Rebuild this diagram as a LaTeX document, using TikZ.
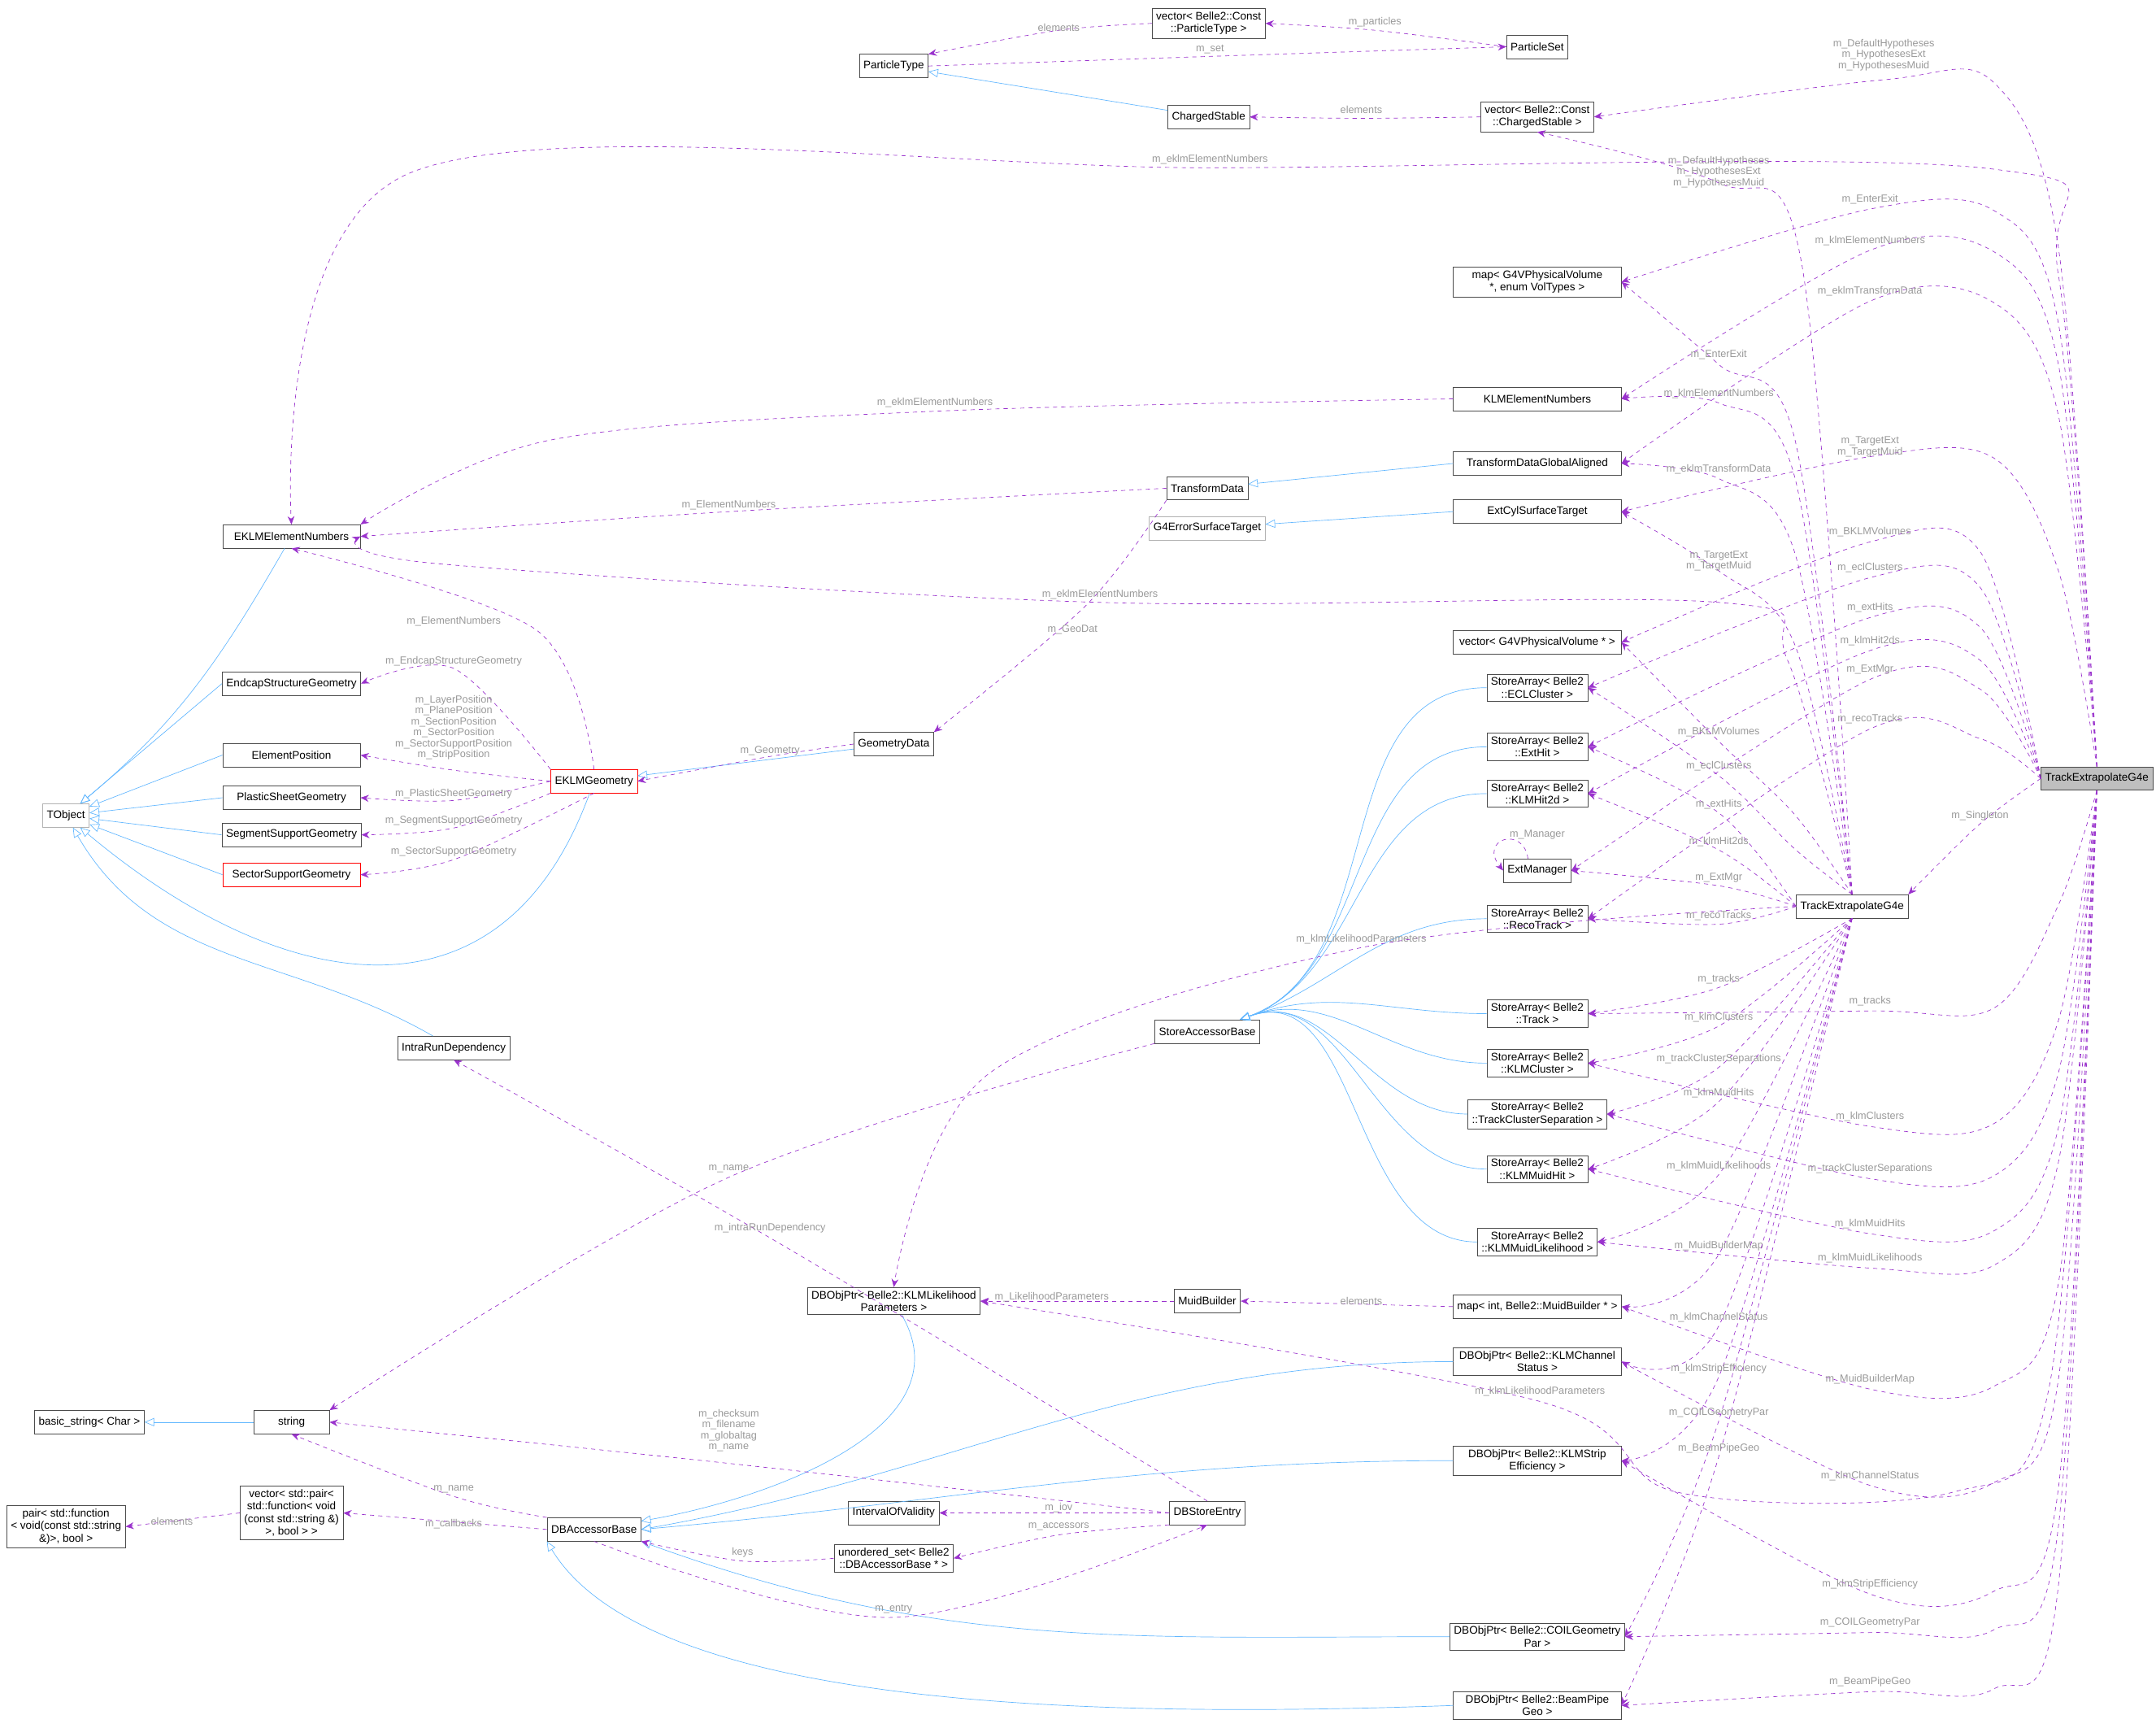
\documentclass[tikz,border=0pt]{standalone}
\usepackage{fontspec}
\setmainfont{Liberation Sans}
\usetikzlibrary{arrows.meta,calc}
\definecolor{depcol}{HTML}{9A32CD}
\definecolor{inhcol}{HTML}{63B8FF}
\definecolor{lblcol}{HTML}{9A9A9A}
\tikzset{
  box/.style={draw=black!70,fill=white,align=center,font=\fontsize{8}{9}\selectfont,
    inner xsep=3pt,inner ysep=2.5pt,minimum height=17pt},
  col/.style={box,minimum width=122pt},
  lcol/.style={box,minimum width=100pt},
  dep/.style={draw=depcol,dashed,-{Stealth[length=6pt,width=5pt]}},
  inh/.style={draw=inhcol,-{Triangle[open,length=7pt,width=6pt]}},
  lbl/.style={text=lblcol,align=center,font=\fontsize{7.5}{8}\selectfont,inner sep=0pt}
}
% dependency: source, target, points between, label position, label
\newcommand\rel[5]{%
  \draw[dep] plot[smooth,tension=0.55] coordinates {(#1) #3 (#2)};
  \node[lbl] at (#4) {#5};}

\begin{document}
\begin{tikzpicture}[x=1pt,y=-1pt]
  \useasboundingbox[fill=white] (0,0) rectangle (1568,1256);
  % classes
  \node[box,fill=black!25] (te) at (1525,566) {TrackExtrapolateG4e};
  \node[box] (tem) at (1347,659) {TrackExtrapolateG4e};
  \node[box] (vpt) at (879,17) {vector< Belle2::Const\\::ParticleType >};
  \node[box] (pset) at (1118,34) {ParticleSet};
  \node[box] (ptype) at (650,48) {ParticleType};
  \node[box] (cstab) at (879,85) {ChargedStable};
  \node[box] (vcs) at (1118,85) {vector< Belle2::Const\\::ChargedStable >};
  \node[lcol] (eklmen) at (212,390) {EKLMElementNumbers};
  \node[col] (mapvol) at (1118,205) {map< G4VPhysicalVolume\\*, enum VolTypes >};
  \node[col] (klmen) at (1118,290) {KLMElementNumbers};
  \node[col] (tdga) at (1118,337) {TransformDataGlobalAligned};
  \node[box] (tdata) at (878,355) {TransformData};
  \node[col] (ecst) at (1118,372) {ExtCylSurfaceTarget};
  \node[box,draw=black!30] (g4est) at (878,384) {G4ErrorSurfaceTarget};
  \node[col] (vg4) at (1118,467) {vector< G4VPhysicalVolume * >};
  \node[box] (saecl) at (1118,500) {StoreArray< Belle2\\::ECLCluster >};
  \node[box] (saext) at (1118,543) {StoreArray< Belle2\\::ExtHit >};
  \node[box] (sahit) at (1118,577) {StoreArray< Belle2\\::KLMHit2d >};
  \node[box] (emgr) at (1118,633) {ExtManager};
  \node[box] (sareco) at (1118,668) {StoreArray< Belle2\\::RecoTrack >};
  \node[box] (satrk) at (1118,737) {StoreArray< Belle2\\::Track >};
  \node[box] (sacl) at (1118,773) {StoreArray< Belle2\\::KLMCluster >};
  \node[box] (satcs) at (1118,810) {StoreArray< Belle2\\::TrackClusterSeparation >};
  \node[box] (samuid) at (1118,850) {StoreArray< Belle2\\::KLMMuidHit >};
  \node[box] (samlk) at (1118,903) {StoreArray< Belle2\\::KLMMuidLikelihood >};
  \node[col] (mapmb) at (1118,950) {map< int, Belle2::MuidBuilder * >};
  \node[col] (dbch) at (1118,990) {DBObjPtr< Belle2::KLMChannel\\Status >};
  \node[col] (dbse) at (1118,1062) {DBObjPtr< Belle2::KLMStrip\\Efficiency >};
  \node[col] (dbcoil) at (1118,1190) {DBObjPtr< Belle2::COILGeometry\\Par >};
  \node[col] (dbbp) at (1118,1240) {DBObjPtr< Belle2::BeamPipe\\Geo >};
  \node[lcol] (esg) at (212,497) {EndcapStructureGeometry};
  \node[lcol] (epos) at (212,549) {ElementPosition};
  \node[lcol] (psg) at (212,580) {PlasticSheetGeometry};
  \node[lcol] (ssg) at (212,607) {SegmentSupportGeometry};
  \node[lcol,draw=red] (secsg) at (212,636) {SectorSupportGeometry};
  \node[box,draw=black!30] (tobj) at (48,593) {TObject};
  \node[box,draw=red] (eklmg) at (432,568) {EKLMGeometry};
  \node[box] (gdata) at (650,541) {GeometryData};
  \node[box] (ird) at (330,762) {IntraRunDependency};
  \node[box] (sab) at (878,750) {StoreAccessorBase};
  \node[box] (dblik) at (650,946) {DBObjPtr< Belle2::KLMLikelihood\\Parameters >};
  \node[box] (mbld) at (878,946) {MuidBuilder};
  \node[box] (bstr) at (65,1034) {basic\_string< Char >};
  \node[box,minimum width=55pt] (str) at (212,1034) {string};
  \node[box] (dbab) at (432,1112) {DBAccessorBase};
  \node[box] (vpair) at (212,1100) {vector< std::pair<\\std::function< void\\(const std::string \&)\\>, bool > >};
  \node[box] (pairf) at (48,1110) {pair< std::function\\< void(const std::string\\\&)>, bool >};
  \node[box] (iov) at (650,1100) {IntervalOfValidity};
  \node[box] (uset) at (650,1133) {unordered\_set< Belle2\\::DBAccessorBase * >};
  \node[box] (dbent) at (878,1100) {DBStoreEntry};

  % inheritance
  \draw[inh] (cstab) -- (ptype);
  \draw[inh] (eklmen) to[out=240,in=40] (tobj);
  \foreach \n in {esg,epos,psg,ssg,secsg} \draw[inh] (\n.west) -- (tobj);
  \draw[inh] (eklmg) to[out=250,in=-40,looseness=1.3] (tobj);
  \draw[inh] (ird) to[out=150,in=-60] (tobj);
  \draw[inh] (tdga.west) -- (tdata);
  \draw[inh] (ecst.west) -- (g4est);
  \draw[inh] (gdata) -- (eklmg);
  \foreach \n in {saecl,saext,sahit,sareco,satrk,sacl,satcs,samuid,samlk}
    \draw[inh] (\n.west) to[out=180,in=20] (sab);
  \draw[inh] (str) -- (bstr);
  \draw[inh] (dblik) to[out=-60,in=10] (dbab);
  \draw[inh] (dbch.west) to[out=180,in=10] (dbab.east);
  \draw[inh] (dbse.west) to[out=180,in=5] (dbab.east);
  \draw[inh] (dbcoil.west) to[out=180,in=-20] (dbab.south east);
  \draw[inh] (dbbp.west) .. controls (780,1250) and (470,1240) .. (dbab.south west);

  % members
  \rel{vpt.west}{ptype.north east}{(770,22)}{770,20}{elements}
  \rel{pset.west}{vpt.east}{(1000,22)}{1000,16}{m\_particles}
  \rel{ptype.east}{pset.west}{(880,41)}{880,36}{m\_set}
  \rel{vcs.west}{cstab.east}{(990,86)}{990,80}{elements}
  \rel{klmen.west}{eklmen.north east}{(680,299) (400,320)}{680,293}{m\_eklmElementNumbers}
  \rel{tdata.west}{eklmen.east}{(530,372)}{530,367}{m\_ElementNumbers}
  \rel{tdata.south west}{gdata.north east}{(790,440)}{780,458}{m\_GeoDat}
  \rel{eklmg.north}{eklmen.south}{(390,458)}{330,452}{m\_ElementNumbers}
  \rel{eklmg.north west}{esg.east}{(330,486)}{330,481}{m\_EndcapStructureGeometry}
  \rel{eklmg.west}{epos.east}{(330,560)}{330,529}{m\_LayerPosition\\m\_PlanePosition\\m\_SectionPosition\\m\_SectorPosition\\m\_SectorSupportPosition\\m\_StripPosition}
  \rel{eklmg.west}{psg.east}{(330,582)}{330,577}{m\_PlasticSheetGeometry}
  \rel{eklmg.south west}{ssg.east}{(330,602)}{330,597}{m\_SegmentSupportGeometry}
  \rel{eklmg.south}{secsg.east}{(330,625)}{330,619}{m\_SectorSupportGeometry}
  \rel{gdata.west}{eklmg.east}{(560,550)}{560,546}{m\_Geometry}
  \draw[dep] ($(emgr.north west)+(18,0)$) .. controls (1108,600) and (1075,610) .. (emgr.west);
  \node[lbl] at (1118,607) {m\_Manager};
  \rel{sab.south west}{str.north east}{(530,856)}{530,850}{m\_name}
  \rel{mbld.west}{dblik.east}{}{765,943}{m\_LikelihoodParameters}
  \rel{mapmb.west}{mbld.east}{}{990,946}{elements}
  \rel{dbent.north}{ird.south}{(560,900)}{560,893}{m\_intraRunDependency}
  \rel{dbent.west}{str.east}{(530,1064)}{530,1040}{m\_checksum\\m\_filename\\m\_globaltag\\m\_name}
  \rel{dbab.north west}{str.south}{(330,1088)}{330,1083}{m\_name}
  \rel{dbab.west}{vpair.east}{}{330,1108}{m\_callbacks}
  \rel{vpair.west}{pairf.east}{}{125,1106}{elements}
  \rel{dbent.west}{iov.east}{}{770,1096}{m\_iov}
  \rel{dbent.south west}{uset.east}{(770,1116)}{770,1110}{m\_accessors}
  \rel{uset.west}{dbab.south east}{(540,1135)}{540,1129}{keys}
  \rel{dbab.south}{dbent.south}{(650,1176)}{650,1170}{m\_entry}

  % middle TrackExtrapolateG4e
  \rel{tem.north}{vcs.south}{(1310,190) (1250,133)}{1250,125}{m\_DefaultHypotheses\\m\_HypothesesExt\\m\_HypothesesMuid}
  \foreach \d/\L/\t in {mapvol/258/m\_EnterExit,klmen/286/m\_klmElementNumbers,
      tdga/341/m\_eklmTransformData,ecst/408/{m\_TargetExt\\m\_TargetMuid},
      vg4/532/m\_BKLMVolumes,saecl/557/m\_eclClusters}
    {\rel{tem.north}{\d.east}{(1305,\L+60) (1250,\L+7)}{1250,\L}{\t}}
  \foreach \d/\L/\t in {saext/585/m\_extHits,sahit/612/m\_klmHit2ds,
      emgr/638/m\_ExtMgr,sareco/666/m\_recoTracks}
    {\rel{tem.west}{\d.east}{(1250,\L+6)}{1250,\L}{\t}}
  \foreach \d/\L/\t in {satrk/712/m\_tracks,sacl/740/m\_klmClusters,
      satcs/770/m\_trackClusterSeparations,samuid/795/m\_klmMuidHits,
      samlk/848/m\_klmMuidLikelihoods,mapmb/906/m\_MuidBuilderMap,
      dbch/958/m\_klmChannelStatus,dbse/995/m\_klmStripEfficiency,
      dbcoil/1027/m\_COILGeometryPar,dbbp/1053/m\_BeamPipeGeo}
    {\rel{tem.south}{\d.east}{(1250,\L+6)}{1250,\L}{\t}}
  \rel{tem.north}{eklmen.east}{(1300,480) (1250,438) (800,438) (320,410)}{800,432}{m\_eklmElementNumbers}
  \rel{tem.west}{dblik.north}{(990,689) (720,780)}{990,683}{m\_klmLikelihoodParameters}

  % main TrackExtrapolateG4e
  \rel{te.north}{vcs.east}{(1497,180) (1450,60) (1370,58)}{1370,40}{m\_DefaultHypotheses\\m\_HypothesesExt\\m\_HypothesesMuid}
  \rel{te.north}{eklmen.north}{(1497,200) (1450,123) (880,122) (300,125)}{880,116}{m\_eklmElementNumbers}
  \foreach \d/\L/\t in {mapvol/145/m\_EnterExit,klmen/175/m\_klmElementNumbers,
      tdga/212/m\_eklmTransformData,ecst/325/{m\_TargetExt\\m\_TargetMuid}}
    {\rel{te.north}{\d.east}{(1497,\L+90) (1450,\L+8) (1360,\L+7)}{1360,\L}{\t}}
  \foreach \d/\L/\t in {vg4/387/m\_BKLMVolumes,saecl/413/m\_eclClusters,
      saext/442/m\_extHits,sahit/466/m\_klmHit2ds,emgr/487/m\_ExtMgr,
      sareco/523/m\_recoTracks}
    {\rel{te.west}{\d.east}{(1440,\L+14) (1360,\L+7)}{1360,\L}{\t}}
  \rel{te.west}{tem.north east}{(1440,599)}{1440,593}{m\_Singleton}
  \foreach \d/\L/\t in {satrk/728/m\_tracks,sacl/812/m\_klmClusters,
      satcs/850/m\_trackClusterSeparations,samuid/890/m\_klmMuidHits,
      samlk/915/m\_klmMuidLikelihoods,mapmb/1003/m\_MuidBuilderMap,
      dbch/1073/m\_klmChannelStatus,dbse/1152/m\_klmStripEfficiency,
      dbcoil/1180/m\_COILGeometryPar,dbbp/1223/m\_BeamPipeGeo}
    {\rel{te.south}{\d.east}{(1497,\L-70) (1450,\L+5) (1360,\L+7)}{1360,\L}{\t}}
  \rel{te.south}{dblik.east}{(1490,1010) (1420,1085) (1220,1085) (1120,1019)}{1120,1012}{m\_klmLikelihoodParameters}
\end{tikzpicture}
\end{document}
